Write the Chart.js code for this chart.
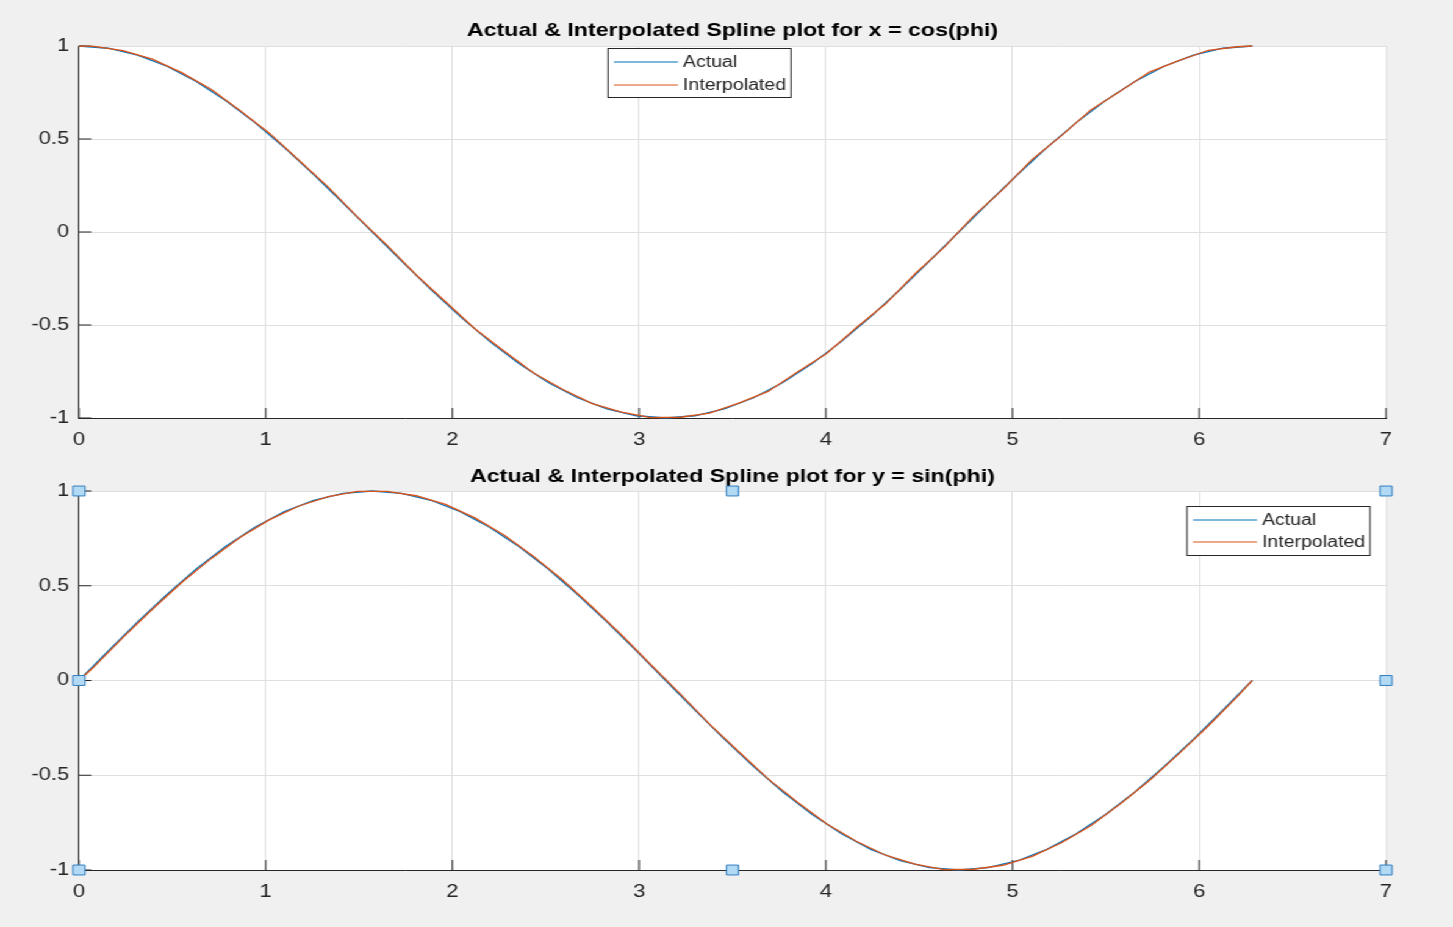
<!DOCTYPE html>
<html>
<head>
<meta charset="utf-8">
<title>Spline plots</title>
<script src="https://cdn.jsdelivr.net/npm/chart.js@4.4.0/dist/chart.umd.min.js"></script>
<style>
  html, body { margin: 0; padding: 0; background: #f0f0f0; overflow: hidden; }
  /* figure is drawn narrow and widened to the window */
  #fig { position: absolute; left: 0; top: 0; width: 1191px; height: 927px; transform: scaleX(1.22); transform-origin: 0 0; }
  .panel { position: absolute; left: 0; width: 1191px; }
  #topPanel { top: 0; height: 463px; }
  #bottomPanel { top: 463px; height: 464px; }
</style>
</head>
<body>
<div id="fig">
  <div class="panel" id="topPanel"><canvas id="cosChart"></canvas></div>
  <div class="panel" id="bottomPanel"><canvas id="sinChart"></canvas></div>
</div>
<script>
// phi samples for the actual curves
const phiActual = [0, 0.157, 0.314, 0.471, 0.628, 0.785, 0.942, 1.100, 1.257, 1.414, 1.571,
  1.728, 1.885, 2.042, 2.199, 2.356, 2.513, 2.670, 2.827, 2.985, 3.142,
  3.299, 3.456, 3.613, 3.770, 3.927, 4.084, 4.241, 4.398, 4.555, 4.712,
  4.869, 5.027, 5.184, 5.341, 5.498, 5.655, 5.812, 5.969, 6.126, 6.283];
const cosActual = [1, 0.988, 0.951, 0.891, 0.809, 0.707, 0.588, 0.454, 0.309, 0.156, 0,
  -0.156, -0.309, -0.454, -0.588, -0.707, -0.809, -0.891, -0.951, -0.988, -1,
  -0.988, -0.951, -0.891, -0.809, -0.707, -0.588, -0.454, -0.309, -0.156, 0,
  0.156, 0.309, 0.454, 0.588, 0.707, 0.809, 0.891, 0.951, 0.988, 1];
const sinActual = [0, 0.156, 0.309, 0.454, 0.588, 0.707, 0.809, 0.891, 0.951, 0.988, 1,
  0.988, 0.951, 0.891, 0.809, 0.707, 0.588, 0.454, 0.309, 0.156, 0,
  -0.156, -0.309, -0.454, -0.588, -0.707, -0.809, -0.891, -0.951, -0.988, -1,
  -0.988, -0.951, -0.891, -0.809, -0.707, -0.588, -0.454, -0.309, -0.156, 0];

// phi samples for the spline curves
const phiInterp = [0, 0.079, 0.236, 0.393, 0.550, 0.707, 0.864, 1.021, 1.178, 1.335, 1.492,
  1.649, 1.806, 1.963, 2.120, 2.278, 2.435, 2.592, 2.749, 2.906, 3.063,
  3.220, 3.377, 3.534, 3.691, 3.848, 4.006, 4.163, 4.320, 4.477, 4.634,
  4.791, 4.948, 5.105, 5.262, 5.419, 5.576, 5.733, 5.890, 6.048, 6.205, 6.283];
const cosInterp = [1, 0.998, 0.975, 0.929, 0.857, 0.767, 0.652, 0.530, 0.386, 0.241, 0.080,
  -0.071, -0.231, -0.375, -0.520, -0.641, -0.758, -0.847, -0.923, -0.968, -0.998,
  -0.996, -0.974, -0.920, -0.857, -0.753, -0.652, -0.515, -0.386, -0.226, -0.081,
  0.085, 0.229, 0.390, 0.518, 0.656, 0.757, 0.860, 0.921, 0.977, 0.996, 1];
const sinInterp = [0, 0.071, 0.228, 0.376, 0.517, 0.643, 0.756, 0.849, 0.921, 0.970, 0.998,
  0.998, 0.975, 0.929, 0.858, 0.766, 0.654, 0.529, 0.388, 0.240, 0.083,
  -0.071, -0.230, -0.376, -0.519, -0.642, -0.757, -0.848, -0.922, -0.969, -0.998,
  -0.996, -0.975, -0.928, -0.856, -0.766, -0.652, -0.528, -0.387, -0.240, -0.084, 0];

// selection handles on the lower axes
const handleX = [0, 3.5, 7, 0, 7, 0, 3.5, 7];
const handleY = [1, 1, 1, 0, 0, -1, -1, -1];

const xTicks = [0, 1, 2, 3, 4, 5, 6, 7];
const yTicks = [-1, -0.5, 0, 0.5, 1];
const seriesNames = ['Actual', 'Interpolated'];

// layout (window pixels) and the horizontal stretch of #fig
const SX = 1.22;
const AXES_LEFT = 79, AXES_RIGHT = 1386;
const FIG_W = 1191;
const BLUE = '#0072BD', ORANGE = '#D95319', INK = '#262626';

Chart.defaults.font.family = '"Liberation Sans", Arial, Helvetica, sans-serif';
Chart.defaults.color = INK;

function pairs(xs, ys) {
  return xs.map((x, i) => ({ x: x, y: ys[i] }));
}

// white plot area behind the grid
const plotBg = {
  id: 'plotBg',
  beforeDraw(chart) {
    const a = chart.chartArea, ctx = chart.ctx;
    ctx.save();
    ctx.fillStyle = '#ffffff';
    ctx.fillRect(a.left, a.top, a.right - a.left, a.bottom - a.top);
    ctx.restore();
  }
};

// tick marks pointing into the axes
const innerTicks = {
  id: 'innerTicks',
  beforeDatasetsDraw(chart) {
    const ctx = chart.ctx, a = chart.chartArea;
    const xs = chart.scales.x, ys = chart.scales.y;
    ctx.save();
    ctx.strokeStyle = INK;
    ctx.lineWidth = 1;
    ctx.beginPath();
    xTicks.forEach(v => {
      const px = xs.getPixelForValue(v);
      ctx.moveTo(px, a.bottom);
      ctx.lineTo(px, a.bottom - 10);
    });
    yTicks.forEach(v => {
      const py = ys.getPixelForValue(v);
      ctx.moveTo(a.left, py);
      ctx.lineTo(a.left + 10, py);
    });
    ctx.stroke();
    ctx.restore();
  }
};

// boxed legend at a fixed spot
const boxLegend = {
  id: 'boxLegend',
  afterDraw(chart, args, opts) {
    const ctx = chart.ctx;
    const x0 = opts.left / SX, x1 = opts.right / SX;
    ctx.save();
    ctx.fillStyle = '#ffffff';
    ctx.fillRect(x0, opts.top, x1 - x0, opts.bottom - opts.top);
    ctx.strokeStyle = INK;
    ctx.lineWidth = 1;
    ctx.strokeRect(x0, opts.top + 0.5, x1 - x0, opts.bottom - opts.top);
    ctx.font = '16px "Liberation Sans", Arial, sans-serif';
    ctx.textBaseline = 'middle';
    const colors = [BLUE, ORANGE];
    seriesNames.forEach((name, i) => {
      const y = opts.rows[i];
      ctx.strokeStyle = colors[i];
      ctx.lineWidth = 1.2;
      ctx.beginPath();
      ctx.moveTo(opts.lineFrom / SX, y);
      ctx.lineTo(opts.lineTo / SX, y);
      ctx.stroke();
      ctx.fillStyle = INK;
      ctx.fillText(name, opts.textAt / SX, y + 1);
    });
    ctx.restore();
  }
};

function makeChart(canvasId, title, actualY, interpY, cfg) {
  const datasets = [
    {
      label: seriesNames[0],
      data: pairs(phiActual, actualY),
      showLine: true,
      borderColor: BLUE,
      borderWidth: 1.3,
      pointRadius: 0,
      tension: 0,
      clip: false,
      order: 2
    },
    {
      label: seriesNames[1],
      data: pairs(phiInterp, interpY),
      showLine: true,
      borderColor: ORANGE,
      borderWidth: 1.3,
      pointRadius: 0,
      tension: 0,
      clip: false,
      order: 1
    }
  ];
  if (cfg.handles) {
    datasets.push({
      label: 'handles',
      data: pairs(handleX, handleY),
      showLine: false,
      pointStyle: 'rect',
      pointRadius: 7,
      backgroundColor: '#b3daf5',
      borderColor: '#2f7dbf',
      borderWidth: 1,
      clip: false,
      order: 0
    });
  }

  return new Chart(document.getElementById(canvasId), {
    type: 'scatter',
    data: { datasets: datasets },
    options: {
      responsive: true,
      maintainAspectRatio: false,
      animation: false,
      events: [],
      layout: { padding: { left: 0, right: FIG_W - AXES_RIGHT / SX, top: 0, bottom: 0 } },
      plugins: {
        legend: { display: false },
        tooltip: { enabled: false },
        title: {
          display: true,
          text: title,
          fullSize: false,
          color: '#000000',
          font: { size: 19, weight: 'bold', lineHeight: 1 },
          padding: cfg.titlePad
        },
        boxLegend: cfg.legend
      },
      scales: {
        x: {
          type: 'linear',
          min: 0,
          max: 7,
          afterFit: s => { s.height = cfg.xAxisHeight; },
          afterBuildTicks: s => { s.ticks = xTicks.map(v => ({ value: v })); },
          ticks: { color: INK, font: { size: 18 }, padding: 11, callback: v => String(v) },
          grid: { color: '#dfdfdf', lineWidth: 1, drawTicks: false },
          border: { display: true, color: INK, width: 1 }
        },
        y: {
          type: 'linear',
          min: -1,
          max: 1,
          afterFit: s => { s.width = AXES_LEFT / SX; },
          afterBuildTicks: s => { s.ticks = yTicks.map(v => ({ value: v })); },
          ticks: { color: INK, font: { size: 18 }, padding: 8, callback: v => String(v) },
          grid: { color: '#dfdfdf', lineWidth: 1, drawTicks: false },
          border: { display: true, color: INK, width: 1 }
        }
      }
    },
    plugins: [plotBg, innerTicks, boxLegend]
  });
}

makeChart('cosChart', 'Actual & Interpolated Spline plot for x = cos(phi)', cosActual, cosInterp, {
  titlePad: { top: 21, bottom: 6 },
  xAxisHeight: 45,
  handles: false,
  legend: { left: 608, right: 791, top: 48, bottom: 97, lineFrom: 614, lineTo: 678, textAt: 683, rows: [62, 85] }
});

makeChart('sinChart', 'Actual & Interpolated Spline plot for y = sin(phi)', sinActual, sinInterp, {
  titlePad: { top: 4.5, bottom: 4.5 },
  xAxisHeight: 57,
  handles: true,
  legend: { left: 1187, right: 1370, top: 43, bottom: 92, lineFrom: 1193, lineTo: 1257, textAt: 1262, rows: [57, 79] }
});
</script>
</body>
</html>
